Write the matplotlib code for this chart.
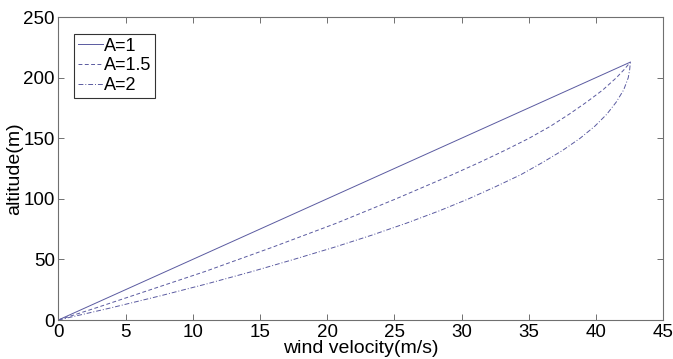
import matplotlib
matplotlib.use("Agg")
import matplotlib.pyplot as plt

# Data
alt_a1 = [0, 213]
v_a1 = [0.0, 42.55]
alt = [0, 10, 20, 30, 40, 50, 60, 70, 80, 90, 100, 110, 120, 130, 140, 150,
       160, 170, 180, 190, 200, 207, 213]
v_a15 = [0, 2.8, 5.5, 8.2, 10.9, 13.4, 15.9, 18.3, 20.7, 22.9, 25.1, 27.2,
         29.3, 31.3, 33.2, 35.0, 36.6, 38.0, 39.3, 40.5, 41.5, 42.1, 42.55]
v_a2 = [0, 3.9, 7.6, 11.1, 14.4, 17.5, 20.5, 23.3, 25.9, 28.3, 30.5, 32.5,
        34.4, 36.0, 37.5, 38.8, 39.9, 40.8, 41.5, 42.05, 42.39, 42.5, 42.55]

labels = ["A=1", "A=1.5", "A=2"]
xticks = [0, 5, 10, 15, 20, 25, 30, 35, 40, 45]
yticks = [0, 50, 100, 150, 200, 250]

plt.rcParams['font.family'] = ['Liberation Sans', 'DejaVu Sans']

fig = plt.figure(figsize=(6.73, 3.59), dpi=100)
ax = fig.add_axes([0.0866, 0.1086, 0.899, 0.8432])

col = '#5a5aa0'
ax.plot(v_a1, alt_a1, '-', color=col, lw=0.7, label=labels[0])
ax.plot(v_a15, alt, '--', color=col, lw=0.7, dashes=(4, 2.5), label=labels[1])
ax.plot(v_a2, alt, '-.', color=col, lw=0.7, dashes=(5, 2, 1, 2), label=labels[2])

ax.set_xlim(0, 45)
ax.set_ylim(0, 250)
ax.set_xticks(xticks)
ax.set_yticks(yticks)
ax.tick_params(direction='in', length=4, width=0.7, color='#707070',
               labelsize=13.5, top=True, right=True)
ax.tick_params(axis='x', pad=3)
ax.tick_params(axis='y', pad=2.5)
for s in ax.spines.values():
    s.set_color('#707070')
    s.set_linewidth(0.8)

ax.set_xlabel('wind velocity(m/s)', fontsize=14, labelpad=-1)
ax.set_ylabel('altitude(m)', fontsize=14, labelpad=0)

leg = ax.legend(loc='upper left', bbox_to_anchor=(0.026, 0.945), fontsize=13,
                frameon=True, fancybox=False, edgecolor='black',
                handlelength=1.4, handletextpad=0.05, borderpad=0.2,
                labelspacing=0.15, borderaxespad=0)
leg.get_frame().set_linewidth(0.8)

fig.savefig('out.png', dpi=100)
